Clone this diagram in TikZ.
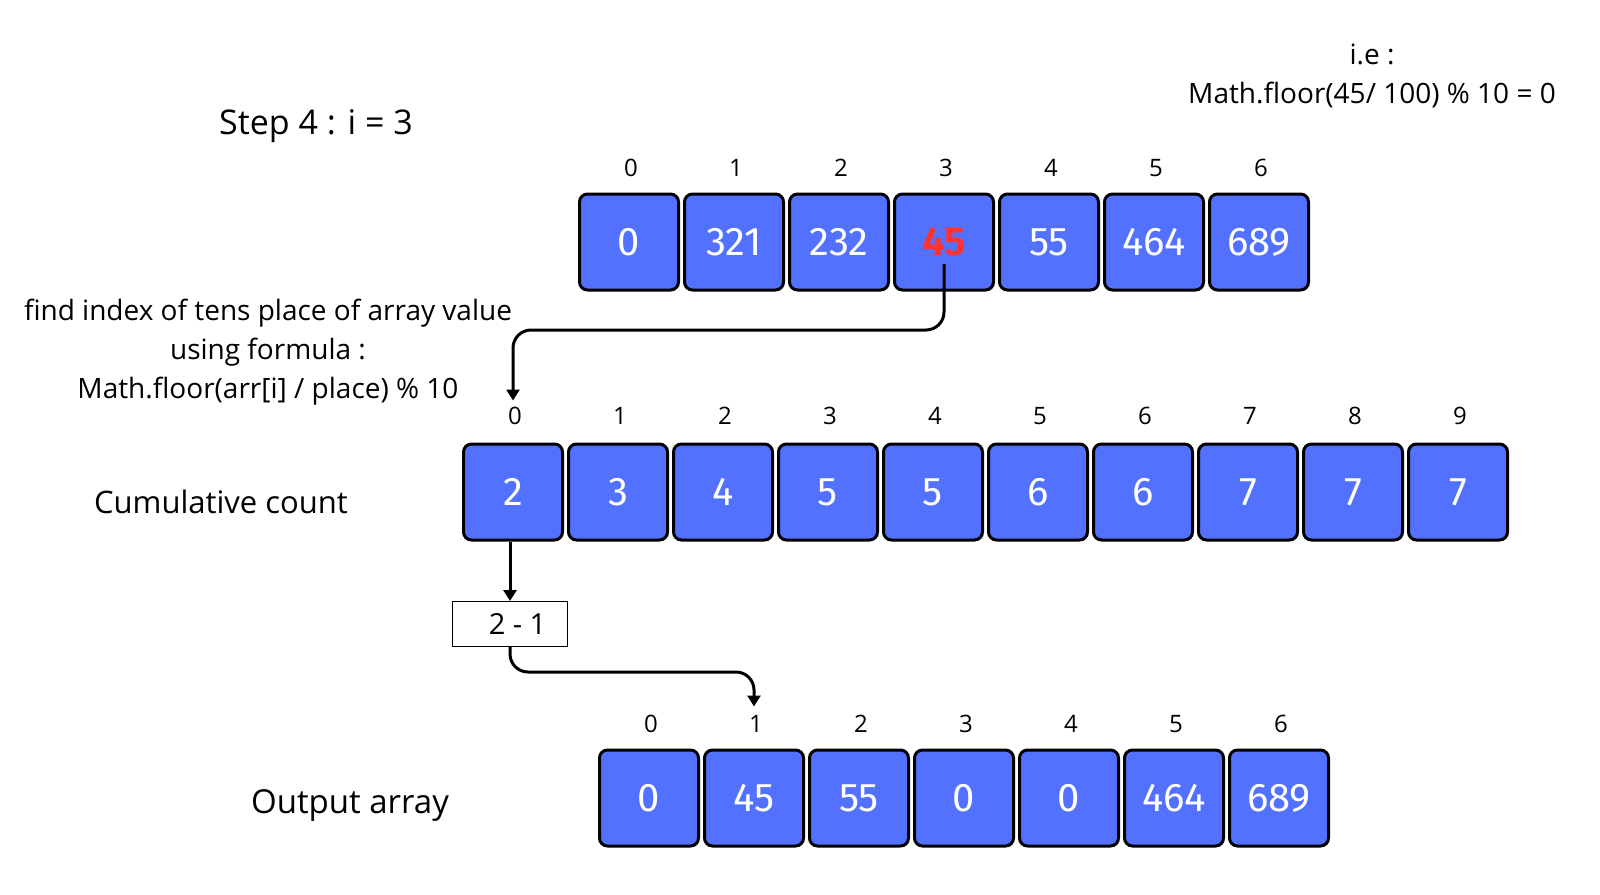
\documentclass[tikz,border=0pt]{standalone}
\usepackage{fontspec}
\setmainfont{Open Sans}
\newfontfamily\boxfont{Fira Sans}
\usetikzlibrary{arrows.meta,calc}
\definecolor{cellblue}{HTML}{5271FF}
\definecolor{hired}{HTML}{FF3131}
\begin{document}
\begin{tikzpicture}[x=1pt,y=-1pt,
  cell/.style={draw=black,line width=3pt,fill=cellblue,rounded corners=8pt,
    minimum width=99pt,minimum height=96pt,inner sep=0pt,text=white,
    font=\boxfont\fontsize{40}{46}\selectfont},
  idx/.style={font=\fontsize{24}{28}\selectfont},
  note/.style={font=\fontsize{28}{39}\selectfont,align=center},
  conn/.style={line width=3pt,rounded corners=18pt,-{Triangle[width=13pt,length=11pt]}}]
\useasboundingbox (0,0) rectangle (1600,894);

% texts
\node[font=\fontsize{34}{40}\selectfont] (step) at (316,126) {Step 4 : i = 3};
\node[font=\fontsize{31}{37}\selectfont] (cum) at (221,502) {Cumulative count};
\node[font=\fontsize{33}{39}\selectfont] (out) at (350,805) {Output array};
\node[note] (ie) at (1372,76) {i.e :\\Math.floor(45/ 100) \% 10 = 0};
\node[note] (find) at (268,352) {find index of tens place of array value\\using formula :\\Math.floor(arr[i] / place) \% 10};

% top array
\foreach \v [count=\i from 0] in {0,321,232,45,55,464,689}{
  \node[cell] (t\i) at (629+105*\i,242) {\ifnum\i=3 \textcolor{hired}{\bfseries\v}\else\v\fi};
  \node[idx] (ti\i) at (631+105*\i,168) {\i};
}
% cumulative count
\foreach \v [count=\i from 0] in {2,3,4,5,5,6,6,7,7,7}{
  \node[cell] (c\i) at (513+105*\i,492) {\v};
  \node[idx] (ci\i) at (515+105*\i,416) {\i};
}
% output array
\foreach \v [count=\i from 0] in {0,45,55,0,0,464,689}{
  \node[cell] (o\i) at (649+105*\i,798) {\v};
  \node[idx] (oi\i) at (651+105*\i,724) {\i};
}

% 2 - 1 box
\node[draw=black,line width=1pt,minimum width=115pt,minimum height=45pt,inner sep=0pt,
  font=\fontsize{29}{34}\selectfont] (minus) at (510,624) {\ \ 2 - 1};

% connectors
\coordinate (s45) at ($(t3.center)+(0,22)$);
\coordinate (c0in) at ($(c0.north)+(0,-42)$);
\coordinate (o1in) at ($(o1.north)+(0,-42)$);
\draw[conn] (s45) -- ++(0,66) -| (c0in);
\draw[conn] (c0.south -| minus.north) -- (minus.north);
\draw[conn] (minus.south) -- ++(0,25) -| (o1in);
\end{tikzpicture}
\end{document}
